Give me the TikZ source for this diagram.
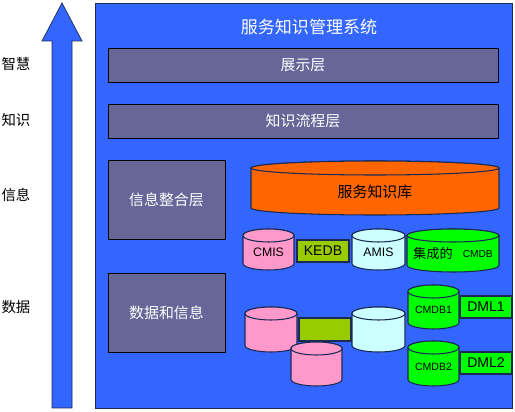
\documentclass[tikz,border=0pt]{standalone}
\usepackage{fontspec}
\setmainfont{Noto Sans CJK SC}
\newfontfamily\latinfont{Liberation Sans}
\definecolor{mainblue}{HTML}{3366FF}
\definecolor{layergray}{HTML}{666699}
\definecolor{storeorange}{HTML}{FF6600}
\definecolor{storepink}{HTML}{FF99CC}
\definecolor{storecyan}{HTML}{CCFFFF}
\definecolor{storegreen}{HTML}{00FF00}
\definecolor{boxolive}{HTML}{99CC00}
\definecolor{edgedark}{HTML}{1A2A55}
\tikzset{
  layerbox/.style={draw=black,fill=layergray,text=white,inner sep=0pt,text height=6.4pt,text depth=0pt,
    font=\fontsize{8.5}{10}\selectfont},
  sidelabel/.style={font=\fontsize{8.2}{10}\selectfont},
  drumline/.style={draw=edgedark,semithick},
  drumtext/.style={inner sep=0pt,font=\latinfont\fontsize{7}{9}\selectfont},
  tagbox/.style={draw=edgedark,semithick,fill=#1,inner sep=0pt,font=\latinfont\fontsize{8}{10}\selectfont},
}
% name, centre x, centre y, half width, half height, end radius, colour, text
\newcommand{\drum}[8]{
  \draw[drumline,fill=#7] ({#2-#4},{#3-#5+#6}) -- ({#2-#4},{#3+#5-#6})
    arc[start angle=180,end angle=0,x radius=#4,y radius=#6]
    -- ({#2+#4},{#3-#5+#6}) arc[start angle=0,end angle=-180,x radius=#4,y radius=#6] -- cycle;
  \draw[drumline,fill=#7] (#2,{#3-#5+#6}) ellipse [x radius=#4,y radius=#6];
  \node[drumtext] (#1) at (#2,{#3+#6/2}) {#8};
}
\begin{document}
\begin{tikzpicture}[x=0.02cm,y=-0.02cm,line join=miter]
  \useasboundingbox (0,0) rectangle (515,412);
  % rising arrow on the left
  \coordinate (tip) at (62,3);
  \draw[draw=edgedark,fill=mainblue] (tip) -- (82,41) -- (72,41) -- (72,408)
    -- (52,408) -- (52,41) -- (42,41) -- cycle;
  \node[sidelabel] (wisdom) at (16,64) {智慧};
  \node[sidelabel] (knowledge) at (16,120) {知识};
  \node[sidelabel] (information) at (16,195) {信息};
  \node[sidelabel] (data) at (16,307) {数据};
  % main panel
  \node[draw=edgedark,fill=mainblue,inner sep=0pt,minimum width=8.34cm,minimum height=8.1cm] (panel) at (303.5,205.5) {};
  \node[text=white,font=\fontsize{9.7}{11}\selectfont] (title) at (309,27) {服务知识管理系统};
  % layers
  \node[layerbox,minimum width=7.8cm,minimum height=0.68cm] (showlayer) at (303,65) {展示层};
  \node[layerbox,minimum width=7.8cm,minimum height=0.68cm] (flowlayer) at (303,121) {知识流程层};
  \node[layerbox,minimum width=2.34cm,minimum height=1.58cm] (infolayer) at (166.5,199.5) {信息整合层};
  \node[layerbox,minimum width=2.34cm,minimum height=1.58cm] (datalayer) at (166.5,312.5) {数据和信息};
  % upper row of stores
  \drum{kbase}{375}{188}{124}{27}{7}{storeorange}{\normalfont\fontsize{8.5}{10}\selectfont 服务知识库}
  \drum{cmis}{268.5}{249.5}{25.5}{20.5}{6.5}{storepink}{CMIS}
  \node[tagbox=boxolive,minimum width=1.04cm,minimum height=0.44cm] (kedb) at (323,251) {KEDB};
  \drum{amis}{378.5}{249.5}{26.5}{20.5}{6.5}{storecyan}{AMIS}
  \drum{cmdb}{453}{250.5}{46}{21.5}{6.5}{storegreen}{{\normalfont\fontsize{7.5}{10}\selectfont 集成的}\hspace{2mm}\raisebox{0.5pt}{\fontsize{5.8}{8}\selectfont CMDB}}
  % lower group of stores
  \node[tagbox=boxolive,minimum width=1.04cm,minimum height=0.46cm] (kedbb) at (325,329.5) {};
  \drum{cmisa}{271}{329.5}{26}{22.5}{6.5}{storepink}{}
  \drum{amisb}{378.5}{329.5}{26.5}{22.5}{6.5}{storecyan}{}
  \drum{cmisb}{316.5}{364}{25.5}{22}{6.5}{storepink}{}
  % CMDB and DML pairs
  \node[tagbox=storegreen,minimum width=1.04cm,minimum height=0.44cm] (dmla) at (486,307) {DML1};
  \drum{cmdba}{433.5}{307}{25.5}{22}{6.5}{storegreen}{\fontsize{6}{8}\selectfont CMDB1}
  \node[tagbox=storegreen,minimum width=1.04cm,minimum height=0.44cm] (dmlb) at (486,363) {DML2};
  \drum{cmdbb}{433.5}{363.5}{25.5}{22.5}{6.5}{storegreen}{\fontsize{6}{8}\selectfont CMDB2}
\end{tikzpicture}
\end{document}
